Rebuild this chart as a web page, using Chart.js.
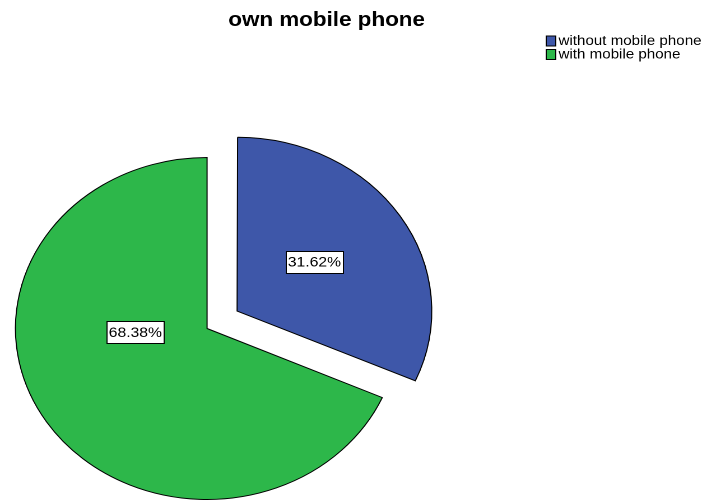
<!DOCTYPE html>
<html>
<head>
<meta charset="utf-8">
<script src="https://cdn.jsdelivr.net/npm/chart.js@4"></script>
<style>
  html, body { margin: 0; padding: 0; background: #ffffff; overflow: hidden; }
  #wrap { width: 707px; height: 503px; overflow: hidden; position: relative; }
  /* the chart is laid out on a narrower canvas and widened horizontally,
     which turns the pie into the wide ellipse and stretches the lettering */
  #chart { position: absolute; left: 0; top: 0; transform-origin: 0 0; transform: scaleX(1.12044); }
</style>
</head>
<body>
<div id="wrap"><canvas id="chart" width="631" height="503"></canvas></div>
<script>
// categories, values (percent) and slice colours
const categories = ['without mobile phone', 'with mobile phone'];
const percents = [31.62, 68.38];
const sliceColors = ['#3E57A9', '#2DB74A'];
const chartTitle = 'own mobile phone';

// the "without" slice is pulled out of the pie
const sliceOffsets = [128, 0];

// where each value box sits, relative to the tip of its slice
const valueBoxShift = [[69, -49.5], [-64, 3.5]];

const FONT = '"Liberation Sans", Arial, Helvetica, sans-serif';

const decorations = {
  id: 'decorations',
  afterDraw(chart) {
    const ctx = chart.ctx;
    ctx.save();

    // title
    ctx.fillStyle = '#000';
    ctx.font = 'bold 20px ' + FONT;
    ctx.textAlign = 'center';
    ctx.textBaseline = 'alphabetic';
    ctx.fillText(chartTitle, 291.5, 26);

    // legend
    ctx.font = '13.5px ' + FONT;
    ctx.textAlign = 'left';
    ctx.textBaseline = 'middle';
    categories.forEach((name, i) => {
      const y = 41 + i * 13.5;
      ctx.fillStyle = sliceColors[i];
      ctx.fillRect(487.5, y - 5, 8.5, 10);
      ctx.strokeStyle = '#000';
      ctx.lineWidth = 1;
      ctx.strokeRect(487.5, y - 5, 8.5, 10);
      ctx.fillStyle = '#000';
      ctx.fillText(name, 498.5, y + 0.5);
    });

    // value boxes
    const meta = chart.getDatasetMeta(0);
    ctx.font = '14px ' + FONT;
    ctx.textAlign = 'center';
    ctx.textBaseline = 'middle';
    meta.data.forEach((arc, i) => {
      const mid = (arc.startAngle + arc.endAngle) / 2;
      const push = (sliceOffsets[i] || 0) / 4;
      const tipX = arc.x + Math.cos(mid) * push;
      const tipY = arc.y + Math.sin(mid) * push;
      const cx = tipX + valueBoxShift[i][0];
      const cy = tipY + valueBoxShift[i][1];
      const label = percents[i].toFixed(2) + '%';
      const w = 51, h = 22;
      ctx.fillStyle = '#fff';
      ctx.fillRect(Math.round(cx - w / 2) + 0.5, Math.round(cy - h / 2) + 0.5, w, h);
      ctx.strokeStyle = '#000';
      ctx.lineWidth = 1;
      ctx.strokeRect(Math.round(cx - w / 2) + 0.5, Math.round(cy - h / 2) + 0.5, w, h);
      ctx.fillStyle = '#000';
      ctx.fillText(label, cx, cy + 1);
    });

    ctx.restore();
  }
};

new Chart(document.getElementById('chart'), {
  type: 'pie',
  data: {
    labels: categories,
    datasets: [{
      data: percents,
      backgroundColor: sliceColors,
      borderColor: '#000',
      borderWidth: 1,
      borderJoinStyle: 'miter',
      offset: sliceOffsets
    }]
  },
  options: {
    responsive: false,
    animation: false,
    devicePixelRatio: 2,
    radius: 171,
    layout: { padding: { left: 0, right: 261.4, top: 154, bottom: 0 } },
    plugins: {
      legend: { display: false },
      title: { display: false },
      tooltip: { enabled: false }
    }
  },
  plugins: [decorations]
});
</script>
</body>
</html>
